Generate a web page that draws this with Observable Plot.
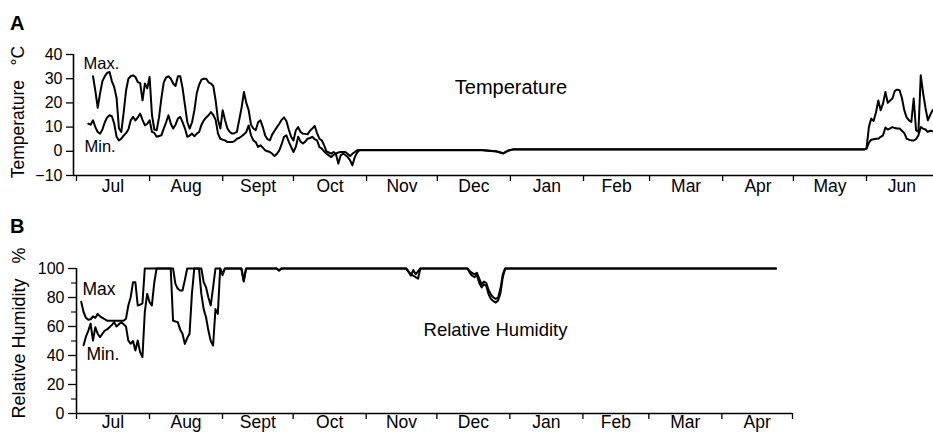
<!DOCTYPE html>
<html><head><meta charset="utf-8">
<script src="https://cdn.jsdelivr.net/npm/d3@7"></script>
<script src="https://cdn.jsdelivr.net/npm/@observablehq/plot@0.6"></script>
<style>
body{margin:0;background:#fff;font-family:"Liberation Sans",Arial,sans-serif;}
#wrap{position:relative;width:933px;height:440px;overflow:hidden;background:#fff;}
.panel{position:absolute;left:0;}
.tag{position:absolute;left:10px;font-weight:bold;font-size:20px;line-height:1;z-index:5;color:#000;}
</style></head><body>
<div id="wrap">
 <div id="pa" class="panel" style="top:0"></div>
 <div id="pb" class="panel" style="top:215px"></div>
 <div class="tag" style="top:13px">A</div>
 <div class="tag" style="top:216px">B</div>
</div>
<script>
// ---- data (day = days since 1 Jul 1998) ----
const monthLabels = ["Jul","Aug","Sept","Oct","Nov","Dec","Jan","Feb","Mar","Apr","May","Jun"];
const tempTicks = [-10, 0, 10, 20, 30, 40];
const rhTicks = [0, 20, 40, 60, 80, 100];
const rhMinorTicks = [10, 30, 50, 70, 90];

const tempMax = [[7,31],[8,25],[9,18],[10,24],[11,29],[12,31],[13,32.4],[14,32.8],[15,29],[16,26.5],[17,22],[18,9.5],[19,8],[20,16],[21,25],[22,30],[23,31],[24,31.4],[25,30.7],[26,28.6],[27,28.2],[28,21],[29,28],[30,26],[31,30.7],[32,15],[33,9],[34,8.7],[35,14],[36,22],[37,28.5],[38,30.5],[39,31],[40,30],[41,28],[42,27],[43,31],[44,31],[45,26],[46,19],[47,12],[48,9.4],[49,12],[50,17],[51,24],[52,27.5],[53,29.6],[54,30],[55,30],[56,28.5],[57,28],[58,27],[59,21],[60,13],[61,9.4],[62,17],[63,12.8],[64,9.4],[65,8],[66,7.3],[67,7.5],[68,8],[69,13],[70,18],[71,24.5],[72,20],[73,17],[74,11],[75,9.4],[76,8.7],[77,12],[78,12.8],[79,10],[80,6.5],[81,5],[82,4.5],[83,7],[84,8.5],[85,10],[86,11.4],[87,13],[88,14],[89,12.5],[90,9],[91,6],[92,4.5],[93,8.7],[94,10],[95,8],[96,7.3],[97,7.2],[98,7],[99,8.5],[100,9.4],[101,10.5],[102,7.5],[103,5.2],[104,4.5],[105,2.5],[106,0],[107,-0.5],[108,-1],[109,-0.3],[110,-1],[111,-0.5],[112,-0.3],[113,-0.3],[114,-0.3],[115,-1],[116,-2],[117,-1],[118,-0.3],[119,0.4],[120,0.5],[172,0.5],[178,0],[181,-0.8],[183,0.3],[185,0.8],[334,0.8],[335,1.1],[336,10],[337,13.5],[338,12.5],[339,16],[340,21],[341,17],[342,19.7],[343,24.5],[344,20],[345,21],[346,21.8],[347,25],[348,25.5],[349,25.2],[350,22],[351,17],[352,14],[353,12.8],[354,12.1],[355,21.8],[356,8.7],[357,8],[358,31.4],[359,24],[360,18],[361,12.8],[362,15],[363,17]];

const tempMin = [[5,11.4],[6,11],[7,12.8],[8,10],[9,8],[10,7.3],[11,9],[12,12],[13,14],[14,14.9],[15,14.5],[16,11.4],[17,6],[18,4.5],[19,5.2],[20,6.5],[21,7.5],[22,9],[23,12.8],[24,14.2],[25,12.8],[26,14],[27,15.6],[28,13],[29,10.7],[30,11.4],[31,12.8],[32,8],[33,7.6],[34,6],[35,6.3],[36,6.6],[37,9.4],[38,12],[39,14.9],[40,11.4],[41,9.4],[42,11],[43,13.5],[44,14.2],[45,12],[46,9.4],[47,6],[48,6.5],[49,7.3],[50,6.2],[51,7.3],[52,8],[53,11],[54,12.8],[55,14],[56,14.9],[57,16.2],[58,15],[59,13],[60,7.3],[61,5.2],[62,4.8],[63,4.5],[64,3.8],[65,3.8],[66,3.8],[67,4.2],[68,5.2],[69,5.5],[70,6.2],[71,7],[72,8],[73,10.7],[74,6.6],[75,4.5],[76,3.8],[77,1.8],[78,2.5],[79,1.5],[80,0.4],[81,0],[82,-0.3],[83,-1],[84,-2],[85,-1],[86,0.4],[87,3],[88,6],[89,6.6],[90,4],[91,1.8],[92,-0.3],[93,1.8],[94,6],[95,4],[96,3.2],[97,4],[98,5.2],[99,5.5],[100,6],[101,5],[102,4.5],[103,1.8],[104,1.1],[105,0],[106,-1],[107,-1.7],[108,-2.4],[109,-1.5],[110,-1],[111,-5.1],[112,-1.7],[113,-1],[114,-1.5],[115,-2.4],[116,-3.7],[117,-5.8],[118,-2.4],[119,-0.5],[120,0.4],[172,0.4],[178,-0.1],[181,-0.9],[183,0.2],[185,0.7],[334,0.7],[335,1.1],[336,3.5],[337,4.8],[338,5],[339,5.2],[340,5.2],[341,6],[342,6.6],[343,9.8],[344,9],[345,9.5],[346,10],[347,9.6],[348,9.4],[349,9.4],[350,8.5],[351,7.6],[352,5.2],[353,4.8],[354,4.5],[355,4.5],[356,5],[357,6.6],[358,10],[359,9.4],[360,9],[361,8],[362,8.5],[363,8.3]];

const rhMax = [[2,77],[3,70],[4,66],[5,64.6],[6,65],[7,67],[8,66],[9,68.7],[10,67],[11,66],[12,65],[13,64],[16,64],[20,64],[21,65.3],[22,74.5],[23,80.2],[24,90.6],[25,90.6],[26,74.5],[27,75],[28,76],[29,100],[41,100],[42,89.4],[43,86],[44,84.8],[45,84.8],[46,92],[47,100],[53,100],[54,90.6],[55,87],[56,80],[57,74.5],[58,87],[59,100],[61,100],[62,96.3],[63,100],[70,100],[71,91.7],[72,100],[85,100],[86,98.6],[87,100],[140,100],[142,95],[143,99],[144,96],[146,100],[166,100],[167,98],[168,97],[169,96],[170,97],[171,93],[172,89],[173,91],[174,90],[175,85],[176,82],[177,80],[178,79],[179,80],[180,86],[181,96],[182,100],[297,100]];

const rhMin = [[3,47],[4,53],[5,57],[6,62],[7,50.3],[8,59.5],[9,55],[10,52.6],[11,55],[12,57.2],[13,58],[14,59.5],[15,61],[16,63],[17,60],[18,61.5],[19,63],[20,61.5],[21,60],[22,50.3],[23,48.1],[24,50],[25,43.4],[26,50.3],[27,42.3],[28,38.9],[29,70],[30,82.5],[31,76.8],[32,74.5],[33,90],[34,100],[40,100],[41,64],[42,63.5],[43,63],[44,58],[45,55],[46,48],[47,52],[48,55],[49,82.5],[50,100],[52,100],[53,82.5],[54,72],[55,66.4],[56,57.2],[57,50],[58,46.9],[59,72],[60,68.7],[61,100],[62,95.4],[63,100],[70,100],[71,91],[72,100],[85,100],[86,98.6],[87,100],[140,100],[142,96],[143,95],[145,93],[146,100],[166,100],[167,97],[168,95],[169,94],[170,95.5],[171,90],[172,87],[173,89],[174,88],[175,82],[176,79],[177,77.5],[178,76.5],[179,78],[180,83],[181,94],[182,100],[297,100]];

// annotations: [text, day, value]
const notesA = [["Max.", 3.0, 36.3], ["Min.", 3.4, 2.0]];
const titleA = [["Temperature", 184.2, 26.2]];
const notesB = [["Max", 2.5, 85.5], ["Min.", 4.2, 40.7]];
const titleB = [["Relative Humidity", 177.9, 57.2]];

// ---- helpers ----
const season = Date.UTC(1998, 6, 1);
const toDate = d => new Date(season + d * 864e5);
const rows = arr => arr.map(([d, v]) => ({date: toDate(d), v}));
const notes = arr => arr.map(([t, d, v]) => ({t, date: toDate(d), v}));
const monthTable = n => d3.range(n).map(i => {
  const s = d3.utcMonth.offset(new Date(season), i), e = d3.utcMonth.offset(new Date(season), i + 1);
  return {start: s, mid: new Date((+s + +e) / 2), label: monthLabels[i]};
});
const font = "'Liberation Sans', Arial, sans-serif";

// ---- Panel A ----
const monthsA = monthTable(12);
const x0A = toDate(-1.27), x1A = toDate(363.4);
const plotA = Plot.plot({
  width: 933, height: 205,
  marginLeft: 73, marginRight: 0, marginTop: 54, marginBottom: 30,
  style: {fontFamily: font, fontSize: "16px", background: "transparent", overflow: "visible", color: "#000"},
  x: {type: "utc", domain: [x0A, x1A]},
  y: {domain: [-10, 40]},
  marks: [
    Plot.axisY({ticks: tempTicks, tickSize: 7, tickPadding: 4, fontSize: 16, label: null, strokeWidth: 1.3}),
    Plot.axisX({ticks: monthsA.map(d => d.start), tickSize: 6, tickFormat: () => "", label: null, strokeWidth: 1.3}),
    Plot.text(monthsA, {x: "mid", text: "label", frameAnchor: "bottom", dy: 16, fontSize: 17.5}),
    Plot.ruleY([-10], {strokeWidth: 1.6}),
    Plot.ruleX([x0A], {y1: -10, y2: 40, strokeWidth: 1.6}),
    Plot.lineY(rows(tempMax), {x: "date", y: "v", stroke: "#000", strokeWidth: 2}),
    Plot.lineY(rows(tempMin), {x: "date", y: "v", stroke: "#000", strokeWidth: 2}),
    Plot.text(notes(notesA), {x: "date", y: "v", text: "t", textAnchor: "start", fontSize: 16.5}),
    Plot.text(notes(titleA), {x: "date", y: "v", text: "t", fontSize: 20}),
    Plot.text(["Temperature\u00a0\u00a0\u00a0°C"], {frameAnchor: "left", textAnchor: "middle", lineAnchor: "middle", dx: -55.5, dy: -3, rotate: -90, fontSize: 17.5})
  ]
});
document.getElementById("pa").append(plotA);

// ---- Panel B ----
const monthsB = monthTable(10);
const x0B = toDate(0), x1B = d3.utcMonth.offset(new Date(season), 10);
const plotB = Plot.plot({
  width: 933, height: 225,
  marginLeft: 76, marginRight: 141, marginTop: 53, marginBottom: 27,
  style: {fontFamily: font, fontSize: "16px", background: "transparent", overflow: "visible", color: "#000"},
  x: {type: "utc", domain: [x0B, x1B]},
  y: {domain: [0, 100]},
  marks: [
    Plot.axisY({ticks: rhTicks, tickSize: 8, tickPadding: 4, fontSize: 16, label: null, strokeWidth: 1.3}),
    Plot.axisY({ticks: rhMinorTicks, tickSize: 5, tickFormat: () => "", label: null, strokeWidth: 1.1}),
    Plot.axisX({ticks: [...monthsB.map(d => d.start), x1B], tickSize: 6, tickFormat: () => "", label: null, strokeWidth: 1.3}),
    Plot.text(monthsB, {x: "mid", text: "label", frameAnchor: "bottom", dy: 14.5, fontSize: 17.5}),
    Plot.ruleY([0], {strokeWidth: 1.6}),
    Plot.ruleX([x0B], {y1: 0, y2: 100, strokeWidth: 1.6}),
    Plot.lineY(rows(rhMax), {x: "date", y: "v", stroke: "#000", strokeWidth: 2}),
    Plot.lineY(rows(rhMin), {x: "date", y: "v", stroke: "#000", strokeWidth: 2}),
    Plot.text(notes(notesB), {x: "date", y: "v", text: "t", textAnchor: "start", fontSize: 17.5}),
    Plot.text(notes(titleB), {x: "date", y: "v", text: "t", fontSize: 18.5}),
    Plot.text(["Relative Humidity\u00a0\u00a0\u00a0%"], {frameAnchor: "left", textAnchor: "middle", lineAnchor: "middle", dx: -57, dy: -8, rotate: -90, fontSize: 18})
  ]
});
document.getElementById("pb").append(plotB);
</script>
</body></html>
